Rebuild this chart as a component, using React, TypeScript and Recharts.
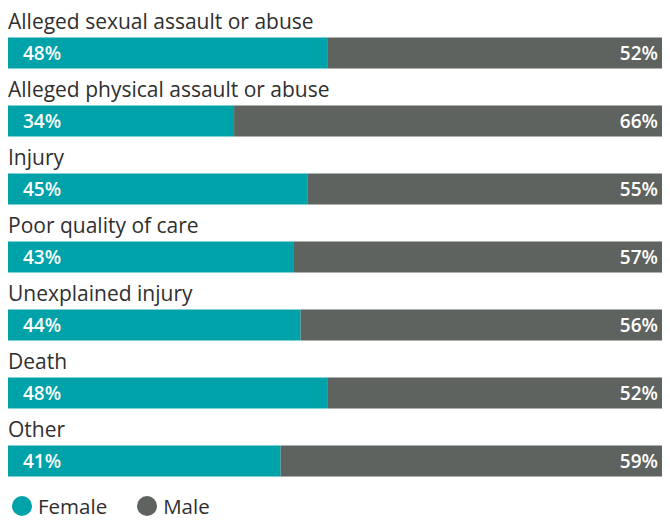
import { BarChart, Bar, XAxis, YAxis, LabelList } from "recharts";

// Share of allegations by gender, per allegation type
const CATEGORIES = [
  "Alleged sexual assault or abuse",
  "Alleged physical assault or abuse",
  "Injury",
  "Poor quality of care",
  "Unexplained injury",
  "Death",
  "Other",
];
const FEMALE = [48, 34, 45, 43, 44, 48, 41];
const MALE = [52, 66, 55, 57, 56, 52, 59];

const TEAL = "#00a2a9";
const GREY = "#5f635f";
const FONT = "'Open Sans', sans-serif";

const data = CATEGORIES.map((name, i) => ({
  name,
  female: FEMALE[i],
  male: MALE[i],
}));

const pct = (v: any) => `${v}%`;

// category name drawn just above each bar
const CategoryLabel = (props: any) => {
  const { x, y, value } = props;
  return (
    <text x={x} y={y - 9} fill="#2f2f2f" fontSize={21} fontFamily={FONT}>
      {value}
    </text>
  );
};

export default function App() {
  return (
    <div style={{ position: "relative", width: 662, fontFamily: FONT }}>
      {/* bars run a few px past the window edge, so clip them here */}
      <div style={{ width: 662, height: 490, overflow: "hidden" }}>
        <BarChart
          width={665}
          height={490}
          data={data}
          layout="vertical"
          margin={{ top: 10.5, right: 0, bottom: 3.5, left: 0 }}
        >
          <XAxis type="number" domain={[0, 100]} hide />
          <YAxis type="category" dataKey="name" hide />
          <Bar dataKey="female" stackId="g" fill={TEAL} barSize={31} isAnimationActive={false}>
            <LabelList dataKey="name" content={CategoryLabel} />
            <LabelList
              dataKey="female"
              position="insideLeft"
              offset={15}
              formatter={pct}
              fill="#fff"
              fontSize={19}
              fontWeight={600}
              fontFamily={FONT}
            />
          </Bar>
          <Bar dataKey="male" stackId="g" fill={GREY} barSize={31} isAnimationActive={false}>
            <LabelList
              dataKey="male"
              position="insideRight"
              offset={15}
              formatter={pct}
              fill="#fff"
              fontSize={19}
              fontWeight={600}
              fontFamily={FONT}
            />
          </Bar>
        </BarChart>
      </div>
      <div
        style={{
          display: "flex",
          alignItems: "center",
          marginTop: -3,
          height: 22,
          lineHeight: "22px",
          fontSize: 20.5,
          color: "#2f2f2f",
        }}
      >
        {[
          { label: "Female", color: TEAL },
          { label: "Male", color: GREY },
        ].map((item) => (
          <div key={item.label} style={{ display: "flex", alignItems: "center", marginRight: 26 }}>
            <span
              style={{
                display: "inline-block",
                width: 20,
                height: 20,
                borderRadius: "50%",
                background: item.color,
                marginLeft: 4,
                marginRight: 6,
              }}
            />
            {item.label}
          </div>
        ))}
      </div>
    </div>
  );
}
